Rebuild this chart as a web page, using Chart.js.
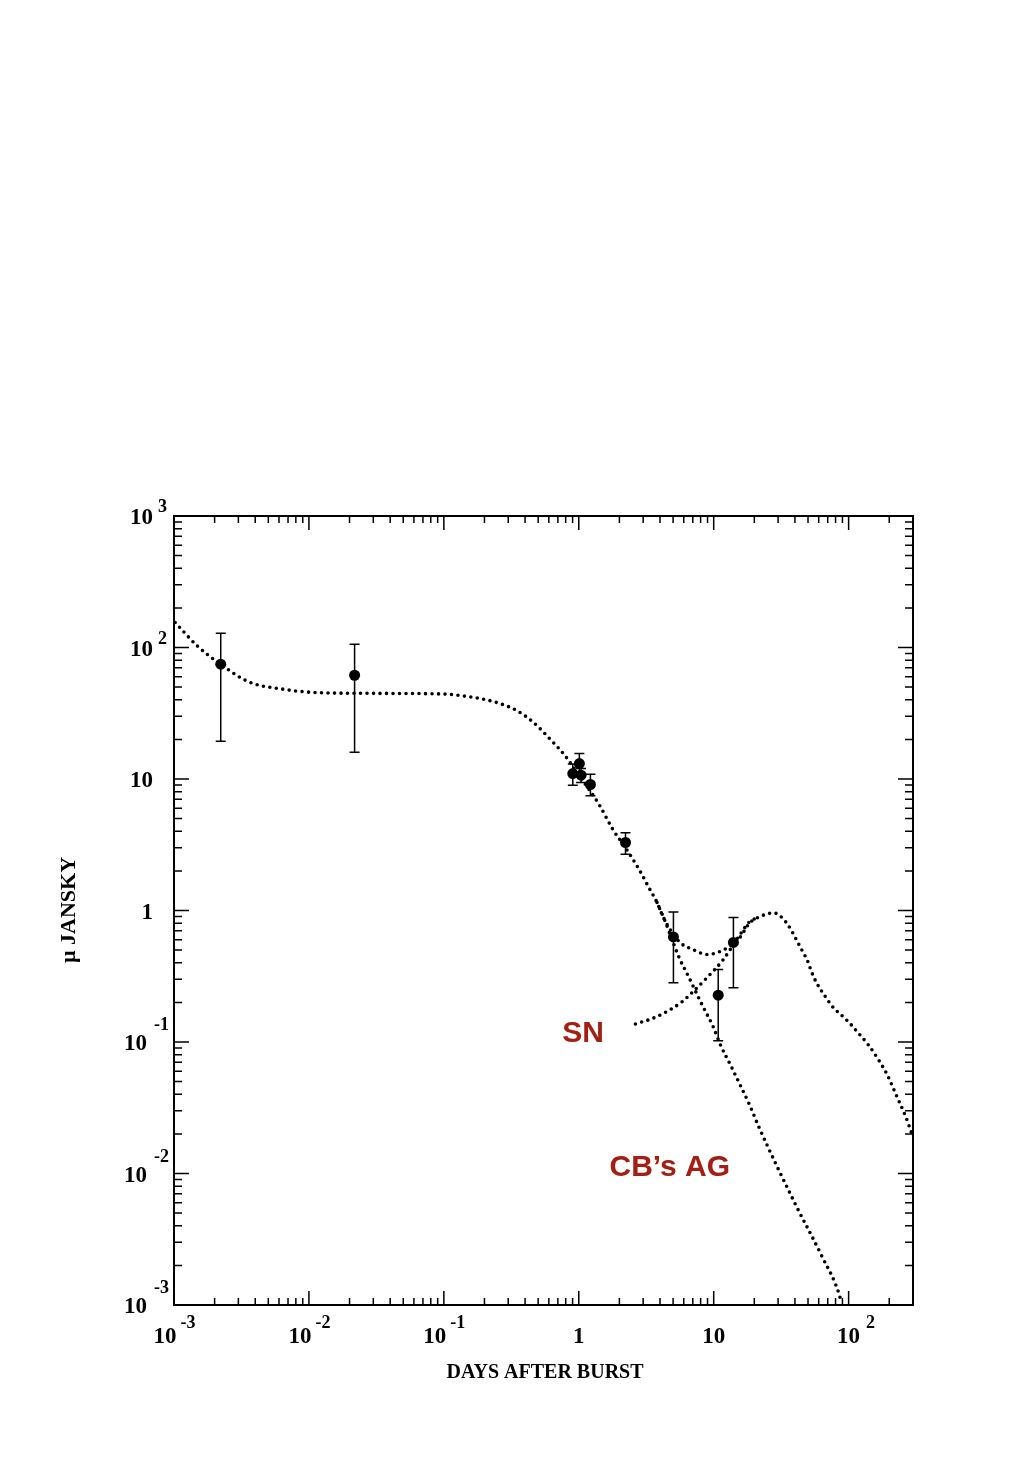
<!DOCTYPE html>
<html>
<head>
<meta charset="utf-8">
<script src="https://cdn.jsdelivr.net/npm/chart.js@4.4.0/dist/chart.umd.min.js"></script>
<style>
  html, body { margin: 0; padding: 0; background: #fff; }
  canvas { display: block; }
</style>
</head>
<body>
<canvas id="lc" width="1035" height="1465"></canvas>
<script>
// tick labels: [base, exponent]
const xTickValues = [0.001, 0.01, 0.1, 1, 10, 100];
const xTickLabels = [["10", "-3"], ["10", "-2"], ["10", "-1"], ["1", ""], ["10", ""], ["10", "2"]];
const yTickValues = [0.001, 0.01, 0.1, 1, 10, 100, 1000];
const yTickLabels = [["10", "-3"], ["10", "-2"], ["10", "-1"], ["1", ""], ["10", ""], ["10", "2"], ["10", "3"]];

// measured fluxes (micro Jansky) with error bars
const obsDays = [0.00222, 0.0218, 0.903, 1.01, 1.04, 1.22, 2.22, 5.03, 10.8, 14.0];
const obsFlux = [74.6, 61.5, 11.0, 13.1, 10.7, 9.08, 3.29, 0.63, 0.227, 0.572];
const obsLow = [19.4, 16.0, 8.97, 10.8, 9.4, 7.45, 2.68, 0.282, 0.102, 0.258];
const obsHigh = [128.5, 106, 13.0, 15.6, 12.0, 10.87, 3.9, 0.976, 0.356, 0.885];

// total model (AG + SN)
const totalDays = [0.00102, 0.0015, 0.0022, 0.0036, 0.0064, 0.0114, 0.03, 0.08, 0.11, 0.14, 0.194, 0.258, 0.344,
  0.456, 0.607, 0.784, 1.0, 1.41, 1.79, 2.22, 2.8, 3.3, 3.8, 4.3, 5.03, 5.73, 7.0, 8.94, 11.0, 13.0,
  15.4, 18.4, 20.6, 24, 27.8, 32.5, 35.4, 38.4, 41.5, 45.2, 49.7, 53.1, 57.5, 62.1, 67.5, 73.8, 79.1,
  85.5, 100.6, 117.9, 139, 164, 192.7, 224, 265, 300];
const totalFlux = [155, 102, 75, 54.7, 48.2, 45.4, 44.8, 44.5, 44.0, 42.8, 40.6, 37.6, 33.3,
  27.2, 20.3, 15.2, 10.7, 6.43, 4.13, 3.0, 2.05, 1.5, 1.15, 0.86, 0.66, 0.562, 0.505, 0.463, 0.485, 0.53,
  0.61, 0.80, 0.87, 0.93, 0.96, 0.87, 0.78, 0.68, 0.585, 0.497, 0.412, 0.342, 0.285, 0.25, 0.22, 0.193, 0.177,
  0.165, 0.141, 0.117, 0.096, 0.075, 0.0567, 0.040, 0.027, 0.019];

// afterglow alone
const agDays = [3.8, 4.3, 5.55, 6.52, 8.3, 9.84, 11.3, 13.4, 15.8, 18.6, 21.4, 40, 62.7, 85, 88];
const agFlux = [1.15, 0.86, 0.437, 0.313, 0.187, 0.133, 0.0935, 0.066, 0.0465, 0.0326, 0.0231, 0.00593, 0.0024, 0.00121, 0.00105];

// supernova alone
const snDays = [2.63, 3.74, 5.9, 6.6, 8.8, 11.7, 15.9, 18.4, 21];
const snFlux = [0.137, 0.155, 0.204, 0.227, 0.304, 0.42, 0.67, 0.82, 0.88];

// text notes, placed in data coordinates (left / baseline)
const notes = [
  { text: "SN", x: 0.753, y: 0.0993 },
  { text: "CB\u2019s AG", x: 1.69, y: 0.00957 }
];

function pts(xs, ys) {
  return xs.map((x, i) => ({ x: x, y: ys[i] }));
}

function dotted(xs, ys) {
  return {
    data: pts(xs, ys),
    showLine: true,
    pointRadius: 0,
    borderColor: "#000",
    borderWidth: 3.6,
    borderDash: [0, 6.5],
    borderCapStyle: "round",
    cubicInterpolationMode: "monotone",
  };
}

const serif = '"Liberation Serif", "Times New Roman", serif';

// frame, inward ticks, labels, error bars
const framePlugin = {
  id: "frame",
  afterDatasetsDraw(chart) {
    const ctx = chart.ctx;
    const xs = chart.scales.x, ys = chart.scales.y;
    ctx.save();
    ctx.strokeStyle = "#000";
    ctx.lineWidth = 1.5;
    obsDays.forEach((d, i) => {
      const px = xs.getPixelForValue(d);
      const top = ys.getPixelForValue(obsHigh[i]);
      const bot = ys.getPixelForValue(obsLow[i]);
      ctx.beginPath();
      ctx.moveTo(px, top); ctx.lineTo(px, bot);
      ctx.moveTo(px - 5, top); ctx.lineTo(px + 5, top);
      ctx.moveTo(px - 5, bot); ctx.lineTo(px + 5, bot);
      ctx.stroke();
    });
    ctx.restore();
  },
  afterDraw(chart) {
    const ctx = chart.ctx;
    const a = chart.chartArea;
    const xs = chart.scales.x, ys = chart.scales.y;
    ctx.save();
    ctx.strokeStyle = "#000";
    ctx.fillStyle = "#000";

    // ticks
    ctx.lineWidth = 1.5;
    ctx.beginPath();
    for (let e = -3; e <= 2; e++) {
      for (let m = 1; m <= 9; m++) {
        const v = m * Math.pow(10, e);
        if (v > xs.max * 1.0001) continue;
        const px = xs.getPixelForValue(v);
        const len = m === 1 ? 14 : 7;
        ctx.moveTo(px, a.bottom); ctx.lineTo(px, a.bottom - len);
        ctx.moveTo(px, a.top); ctx.lineTo(px, a.top + len);
      }
    }
    for (let e = -3; e <= 3; e++) {
      for (let m = 1; m <= 9; m++) {
        const v = m * Math.pow(10, e);
        if (v > ys.max * 1.0001) continue;
        const py = ys.getPixelForValue(v);
        const len = m === 1 ? 15 : 8;
        ctx.moveTo(a.left, py); ctx.lineTo(a.left + len, py);
        ctx.moveTo(a.right, py); ctx.lineTo(a.right - len, py);
      }
    }
    ctx.stroke();

    // frame
    ctx.lineWidth = 2;
    ctx.strokeRect(a.left, a.top, a.right - a.left, a.bottom - a.top);

    // x tick labels
    const baseFont = "bold 23px " + serif;
    const supFont = "bold 18px " + serif;
    ctx.textBaseline = "alphabetic";
    xTickValues.forEach((v, i) => {
      const [b, s] = xTickLabels[i];
      const neg = s.startsWith("-");
      const px = xs.getPixelForValue(v);
      ctx.font = baseFont;
      const w = ctx.measureText(b).width;
      const cx = px - (neg ? 9 : 0);
      const base = a.bottom + 38;
      ctx.textAlign = "left";
      ctx.fillText(b, cx - w / 2, base);
      if (s) {
        ctx.font = supFont;
        ctx.fillText(s, cx + w / 2 + (neg ? 4 : 6), base - 15);
      }
    });

    // y tick labels
    yTickValues.forEach((v, i) => {
      const [b, s] = yTickLabels[i];
      const neg = s.startsWith("-");
      const py = ys.getPixelForValue(v);
      ctx.font = baseFont;
      const w = ctx.measureText(b).width;
      const right = a.left - (neg ? 27 : 21);
      ctx.textAlign = "left";
      ctx.fillText(b, right - w, py + 8);
      if (s) {
        ctx.font = supFont;
        ctx.fillText(s, right + (neg ? 7 : 5), py - (neg ? 12 : 4));
      }
    });

    // axis titles
    ctx.font = "bold 20px " + serif;
    ctx.textAlign = "center";
    ctx.fillText("DAYS AFTER BURST", 545, 1378);
    ctx.save();
    ctx.translate(75, 910);
    ctx.rotate(-Math.PI / 2);
    ctx.font = "bold 22px " + serif;
    ctx.fillText("\u00b5 JANSKY", 0, 0);
    ctx.restore();

    // notes
    ctx.font = 'bold 30px "Liberation Sans", Arial, sans-serif';
    ctx.fillStyle = "#a31f14";
    ctx.textAlign = "left";
    notes.forEach(n => {
      ctx.fillText(n.text, xs.getPixelForValue(n.x), ys.getPixelForValue(n.y));
    });
    ctx.restore();
  }
};

new Chart(document.getElementById("lc"), {
  type: "scatter",
  data: {
    datasets: [
      {
        data: pts(obsDays, obsFlux),
        pointRadius: 5.5,
        pointBackgroundColor: "#000",
        pointBorderColor: "#000",
        borderWidth: 0,
        showLine: false,
      },
      dotted(totalDays, totalFlux),
      dotted(agDays, agFlux),
      dotted(snDays, snFlux),
    ],
  },
  options: {
    responsive: false,
    animation: false,
    devicePixelRatio: 1,
    layout: { padding: { left: 174, right: 122, top: 516, bottom: 160 } },
    plugins: { legend: { display: false }, tooltip: { enabled: false } },
    scales: {
      x: { type: "logarithmic", min: 0.001, max: 300, display: false },
      y: { type: "logarithmic", min: 0.001, max: 1000, display: false },
    },
  },
  plugins: [framePlugin],
});
</script>
</body>
</html>
